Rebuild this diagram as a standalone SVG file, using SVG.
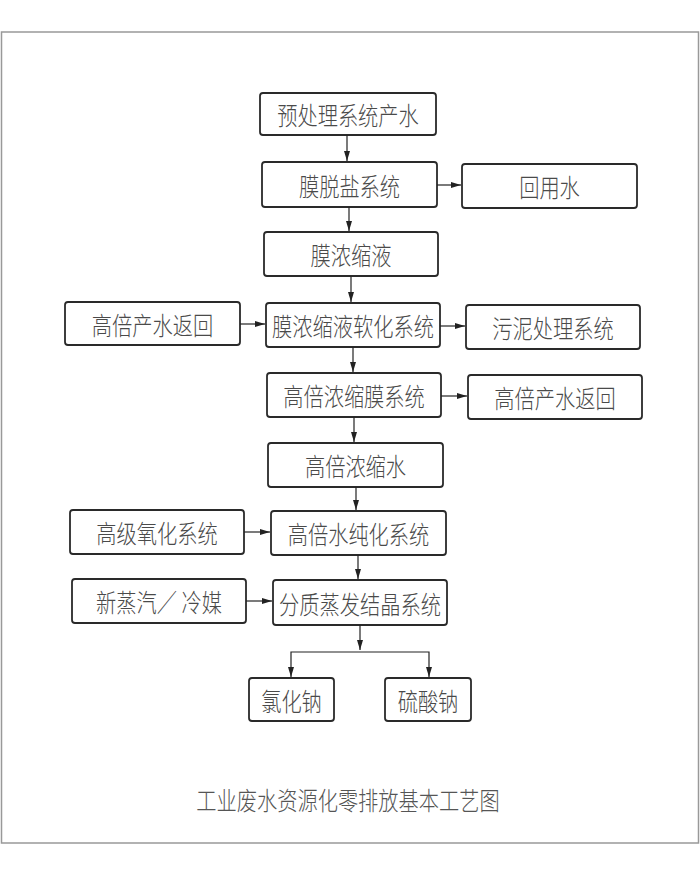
<svg xmlns="http://www.w3.org/2000/svg" width="700" height="875" viewBox="0 0 700 875">
<defs>
<style>
.box{fill:#fff;stroke:#2a2a2a;stroke-width:1.8}
.lbl{font-family:"Noto Sans CJK SC","Noto Sans",sans-serif;font-size:23px;font-weight:300;fill:#4a4a4a;text-anchor:middle;dominant-baseline:central}
.ttl{font-family:"Noto Sans CJK SC","Noto Sans",sans-serif;font-size:23px;font-weight:300;fill:#555;text-anchor:middle;dominant-baseline:central}
.ln{fill:none;stroke:#222;stroke-width:1.2}
</style>
<marker id="ah" viewBox="0 0 10 6" refX="10" refY="3" markerWidth="10" markerHeight="6" markerUnits="userSpaceOnUse" orient="auto">
<path d="M0,0 L10,3 L0,6 Z" fill="#222"/>
</marker>
</defs>
<rect width="700" height="875" fill="#fff"/>
<rect x="1.5" y="32" width="697" height="811" fill="none" stroke="#999" stroke-width="1.5"/>

<g id="n1"><rect class="box" x="260" y="93" width="176" height="42" rx="3"/><text class="lbl" transform="translate(348,114) scale(0.88,1.1)">预处理系统产水</text></g>
<g id="n2"><rect class="box" x="262" y="162" width="175" height="45" rx="3"/><text class="lbl" transform="translate(349.5,184.5) scale(0.88,1.1)">膜脱盐系统</text></g>
<g id="n3"><rect class="box" x="462" y="164" width="175" height="44" rx="3"/><text class="lbl" transform="translate(549.5,186) scale(0.88,1.1)">回用水</text></g>
<g id="n4"><rect class="box" x="264" y="232" width="174" height="44" rx="3"/><text class="lbl" transform="translate(351,254) scale(0.88,1.1)">膜浓缩液</text></g>
<g id="n5"><rect class="box" x="65" y="302" width="175" height="43" rx="3"/><text class="lbl" transform="translate(152.5,323.5) scale(0.88,1.1)">高倍产水返回</text></g>
<g id="n6"><rect class="box" x="266" y="303" width="174" height="44" rx="3"/><text class="lbl" transform="translate(353,325) scale(0.88,1.1)">膜浓缩液软化系统</text></g>
<g id="n7"><rect class="box" x="466" y="305" width="174" height="44" rx="3"/><text class="lbl" transform="translate(553,327) scale(0.88,1.1)">污泥处理系统</text></g>
<g id="n8"><rect class="box" x="267" y="373" width="174" height="44" rx="3"/><text class="lbl" transform="translate(354,395) scale(0.88,1.1)">高倍浓缩膜系统</text></g>
<g id="n9"><rect class="box" x="468" y="375" width="174" height="44" rx="3"/><text class="lbl" transform="translate(555,397) scale(0.88,1.1)">高倍产水返回</text></g>
<g id="n10"><rect class="box" x="268" y="443" width="175" height="44" rx="3"/><text class="lbl" transform="translate(355.5,465) scale(0.88,1.1)">高倍浓缩水</text></g>
<g id="n11"><rect class="box" x="70" y="510" width="174" height="44" rx="3"/><text class="lbl" transform="translate(157,532) scale(0.88,1.1)">高级氧化系统</text></g>
<g id="n12"><rect class="box" x="271" y="511" width="175" height="44" rx="3"/><text class="lbl" transform="translate(358.5,533) scale(0.88,1.1)">高倍水纯化系统</text></g>
<g id="n13"><rect class="box" x="72" y="579" width="174" height="44" rx="3"/><text class="lbl" transform="translate(159,601) scale(0.88,1.1)">新蒸汽／ 冷媒</text></g>
<g id="n14"><rect class="box" x="273" y="580" width="174" height="45" rx="3"/><text class="lbl" transform="translate(360,602.5) scale(0.88,1.1)">分质蒸发结晶系统</text></g>
<g id="n15"><rect class="box" x="249" y="678" width="85" height="43" rx="3"/><text class="lbl" transform="translate(291.5,699.5) scale(0.88,1.1)">氯化钠</text></g>
<g id="n16"><rect class="box" x="385" y="678" width="86" height="43" rx="3"/><text class="lbl" transform="translate(428,699.5) scale(0.88,1.1)">硫酸钠</text></g>

<g id="connectors">
<path class="ln" d="M347,135 V161" marker-end="url(#ah)"/>
<path class="ln" d="M437,185 H461" marker-end="url(#ah)"/>
<path class="ln" d="M349,207 V231" marker-end="url(#ah)"/>
<path class="ln" d="M351,276 V302" marker-end="url(#ah)"/>
<path class="ln" d="M240,324 H265" marker-end="url(#ah)"/>
<path class="ln" d="M440,326 H465" marker-end="url(#ah)"/>
<path class="ln" d="M353,347 V372" marker-end="url(#ah)"/>
<path class="ln" d="M441,396 H467" marker-end="url(#ah)"/>
<path class="ln" d="M354,417 V442" marker-end="url(#ah)"/>
<path class="ln" d="M356,487 V510" marker-end="url(#ah)"/>
<path class="ln" d="M244,532 H270" marker-end="url(#ah)"/>
<path class="ln" d="M358,555 V579" marker-end="url(#ah)"/>
<path class="ln" d="M246,601 H272" marker-end="url(#ah)"/>
<path class="ln" d="M360,625 V650" marker-end="url(#ah)"/>
<path class="ln" d="M360,652 H291 V677" marker-end="url(#ah)"/>
<path class="ln" d="M360,652 H429 V677" marker-end="url(#ah)"/>
</g>

<text class="ttl" transform="translate(348,799) scale(0.88,1.1)">工业废水资源化零排放基本工艺图</text>
</svg>
